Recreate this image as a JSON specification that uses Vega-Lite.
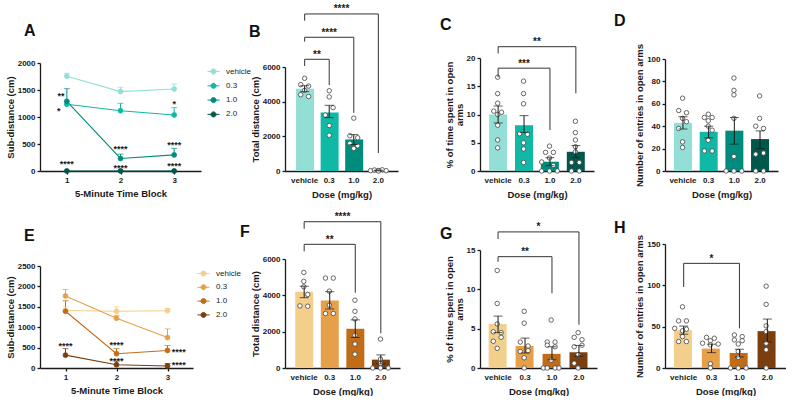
{
  "$schema": "https://vega.github.io/schema/vega-lite/v6.json",
  "padding": {"left": 5, "top": 4, "right": 0, "bottom": 0},
  "config": {
    "font": "Liberation Sans",
    "view": {"stroke": null},
    "axis": {"grid": false, "labelOverlap": false, "labelBound": false, "domainColor": "#1a1a1a", "tickColor": "#1a1a1a", "labelColor": "#1a1a1a", "titleColor": "#1a1a1a", "labelFont": "Liberation Sans", "titleFont": "Liberation Sans", "labelFontSize": 8, "labelFontWeight": "bold", "titleFontSize": 9.5, "titleFontWeight": "bold", "domainWidth": 1.3, "tickWidth": 1.3, "tickSize": 3, "labelPadding": 2},
    "axisY": {"titlePadding": 2, "format": "d"},
    "legend": {"labelFont": "Liberation Sans"},
    "title": {"font": "Liberation Sans", "fontSize": 16, "fontWeight": "bold", "color": "#111111", "anchor": "start", "frame": "group"}
  },
  "datasets": {
    "lineA": [
      {"dose": "vehicle", "block": 1, "mean": 1755, "hi": 1810},
      {"dose": "vehicle", "block": 2, "mean": 1470, "hi": 1550},
      {"dose": "vehicle", "block": 3, "mean": 1518, "hi": 1610},
      {"dose": "0.3", "block": 1, "mean": 1235, "hi": 1290},
      {"dose": "0.3", "block": 2, "mean": 1117, "hi": 1253},
      {"dose": "0.3", "block": 3, "mean": 1037, "hi": 1173},
      {"dose": "1.0", "block": 1, "mean": 1290, "hi": 1524},
      {"dose": "1.0", "block": 2, "mean": 232, "hi": 312},
      {"dose": "1.0", "block": 3, "mean": 298, "hi": 420},
      {"dose": "2.0", "block": 1, "mean": 0, "hi": 8},
      {"dose": "2.0", "block": 2, "mean": 0, "hi": 8},
      {"dose": "2.0", "block": 3, "mean": 0, "hi": 8}
    ],
    "starsA": [
      {"block": 0.89, "val": 1426, "label": "**"},
      {"block": 0.85, "val": 1148, "label": "*"},
      {"block": 1, "val": 167, "label": "****"},
      {"block": 2, "val": 444, "label": "****"},
      {"block": 2, "val": 93, "label": "****"},
      {"block": 3, "val": 1278, "label": "*"},
      {"block": 3, "val": 519, "label": "****"},
      {"block": 3, "val": 130, "label": "****"}
    ],
    "lineE": [
      {"dose": "vehicle", "block": 1, "mean": 1410, "hi": 1500},
      {"dose": "vehicle", "block": 2, "mean": 1390, "hi": 1500},
      {"dose": "vehicle", "block": 3, "mean": 1405, "hi": 1460},
      {"dose": "0.3", "block": 1, "mean": 1765, "hi": 1925},
      {"dose": "0.3", "block": 2, "mean": 1218, "hi": 1290},
      {"dose": "0.3", "block": 3, "mean": 745, "hi": 960},
      {"dose": "1.0", "block": 1, "mean": 1390, "hi": 1650},
      {"dose": "1.0", "block": 2, "mean": 350, "hi": 475},
      {"dose": "1.0", "block": 3, "mean": 430, "hi": 550},
      {"dose": "2.0", "block": 1, "mean": 315, "hi": 475},
      {"dose": "2.0", "block": 2, "mean": 80, "hi": 170},
      {"dose": "2.0", "block": 3, "mean": 50, "hi": 110}
    ],
    "starsE": [
      {"block": 1, "val": 588, "label": "****"},
      {"block": 2, "val": 605, "label": "****"},
      {"block": 2, "val": 213, "label": "****"},
      {"block": 3.22, "val": 449, "label": "****"},
      {"block": 3.22, "val": 114, "label": "****"}
    ],
    "barB": [
      {"dose": "vehicle", "mean": 4750, "lo": 4580, "hi": 4920},
      {"dose": "0.3", "mean": 3380, "lo": 3080, "hi": 3790},
      {"dose": "1.0", "mean": 1820, "lo": 1530, "hi": 2100},
      {"dose": "2.0", "mean": 30, "lo": 10, "hi": 50}
    ],
    "ptsB": [
      {"dose": "vehicle", "val": 5350, "slot": 3}, {"dose": "vehicle", "val": 4980, "slot": 2}, {"dose": "vehicle", "val": 4900, "slot": 4},
      {"dose": "vehicle", "val": 4650, "slot": 3}, {"dose": "vehicle", "val": 4400, "slot": 2}, {"dose": "vehicle", "val": 4300, "slot": 4},
      {"dose": "0.3", "val": 4630, "slot": 3}, {"dose": "0.3", "val": 4275, "slot": 3}, {"dose": "0.3", "val": 3656, "slot": 4},
      {"dose": "0.3", "val": 3225, "slot": 2}, {"dose": "0.3", "val": 2625, "slot": 3}, {"dose": "0.3", "val": 2063, "slot": 3},
      {"dose": "1.0", "val": 3050, "slot": 3}, {"dose": "1.0", "val": 2030, "slot": 2}, {"dose": "1.0", "val": 1920, "slot": 4},
      {"dose": "1.0", "val": 1600, "slot": 2}, {"dose": "1.0", "val": 1450, "slot": 4}, {"dose": "1.0", "val": 1300, "slot": 3},
      {"dose": "2.0", "val": 20, "slot": 1}, {"dose": "2.0", "val": 60, "slot": 2}, {"dose": "2.0", "val": 30, "slot": 3},
      {"dose": "2.0", "val": 70, "slot": 4}, {"dose": "2.0", "val": 20, "slot": 5}, {"dose": "2.0", "val": 0, "slot": 3}
    ],
    "brkB": [
      {"from": 0, "to": 1, "mid": 0.5, "top": 6445, "lb": 6060, "rb": 4960, "label": "**"},
      {"from": 0, "to": 2, "mid": 1, "top": 7715, "lb": 7460, "rb": 3350, "label": "****"},
      {"from": 0, "to": 3, "mid": 1.5, "top": 9060, "lb": 8670, "rb": 1040, "label": "****"}
    ],
    "barC": [
      {"dose": "vehicle", "mean": 10.0, "lo": 8.5, "hi": 11.5},
      {"dose": "0.3", "mean": 8.1, "lo": 6.8, "hi": 9.8},
      {"dose": "1.0", "mean": 1.65, "lo": 0.95, "hi": 2.35},
      {"dose": "2.0", "mean": 3.4, "lo": 2.4, "hi": 4.5}
    ],
    "ptsC": [
      {"dose": "vehicle", "val": 16.6, "slot": 3}, {"dose": "vehicle", "val": 13.7, "slot": 3}, {"dose": "vehicle", "val": 12.0, "slot": 3},
      {"dose": "vehicle", "val": 10.6, "slot": 2}, {"dose": "vehicle", "val": 10.4, "slot": 4}, {"dose": "vehicle", "val": 10.0, "slot": 3},
      {"dose": "vehicle", "val": 8.1, "slot": 3}, {"dose": "vehicle", "val": 5.5, "slot": 3}, {"dose": "vehicle", "val": 4.1, "slot": 3},
      {"dose": "0.3", "val": 15.9, "slot": 3}, {"dose": "0.3", "val": 13.7, "slot": 3}, {"dose": "0.3", "val": 11.9, "slot": 3},
      {"dose": "0.3", "val": 6.6, "slot": 2}, {"dose": "0.3", "val": 6.5, "slot": 4}, {"dose": "0.3", "val": 5.0, "slot": 3},
      {"dose": "0.3", "val": 3.9, "slot": 3}, {"dose": "0.3", "val": 1.5, "slot": 3},
      {"dose": "1.0", "val": 4.4, "slot": 3}, {"dose": "1.0", "val": 3.3, "slot": 2}, {"dose": "1.0", "val": 3.3, "slot": 4},
      {"dose": "1.0", "val": 2.3, "slot": 3}, {"dose": "1.0", "val": 1.6, "slot": 1}, {"dose": "1.0", "val": 1.0, "slot": 4},
      {"dose": "1.0", "val": 0, "slot": 1}, {"dose": "1.0", "val": 0, "slot": 3}, {"dose": "1.0", "val": 0, "slot": 5},
      {"dose": "2.0", "val": 8.8, "slot": 3}, {"dose": "2.0", "val": 6.8, "slot": 3}, {"dose": "2.0", "val": 5.5, "slot": 3},
      {"dose": "2.0", "val": 4.3, "slot": 3}, {"dose": "2.0", "val": 3.4, "slot": 3}, {"dose": "2.0", "val": 1.5, "slot": 2},
      {"dose": "2.0", "val": 1.5, "slot": 4}, {"dose": "2.0", "val": 0, "slot": 2}, {"dose": "2.0", "val": 0, "slot": 4}
    ],
    "brkC": [
      {"from": 0, "to": 2, "mid": 1, "top": 18.2, "lb": 16.6, "rb": 7.25, "label": "***"},
      {"from": 0, "to": 3, "mid": 1.5, "top": 22.0, "lb": 20.8, "rb": 13.75, "label": "**"}
    ],
    "barD": [
      {"dose": "vehicle", "mean": 43, "lo": 37.6, "hi": 48.4},
      {"dose": "0.3", "mean": 35, "lo": 29.6, "hi": 40},
      {"dose": "1.0", "mean": 36, "lo": 24, "hi": 47.8},
      {"dose": "2.0", "mean": 28.5, "lo": 20, "hi": 35.8}
    ],
    "ptsD": [
      {"dose": "vehicle", "val": 65, "slot": 3}, {"dose": "vehicle", "val": 54, "slot": 2}, {"dose": "vehicle", "val": 52, "slot": 4},
      {"dose": "vehicle", "val": 47, "slot": 3}, {"dose": "vehicle", "val": 44, "slot": 4}, {"dose": "vehicle", "val": 38, "slot": 2},
      {"dose": "vehicle", "val": 26, "slot": 3}, {"dose": "vehicle", "val": 21, "slot": 3},
      {"dose": "0.3", "val": 50.7, "slot": 3}, {"dose": "0.3", "val": 47.8, "slot": 2}, {"dose": "0.3", "val": 47.8, "slot": 4},
      {"dose": "0.3", "val": 44.8, "slot": 3}, {"dose": "0.3", "val": 40, "slot": 3}, {"dose": "0.3", "val": 36.4, "slot": 4},
      {"dose": "0.3", "val": 27.5, "slot": 3}, {"dose": "0.3", "val": 17.9, "slot": 2}, {"dose": "0.3", "val": 17.9, "slot": 4},
      {"dose": "1.0", "val": 83, "slot": 3}, {"dose": "1.0", "val": 72, "slot": 3}, {"dose": "1.0", "val": 68, "slot": 3},
      {"dose": "1.0", "val": 47, "slot": 3}, {"dose": "1.0", "val": 13, "slot": 3}, {"dose": "1.0", "val": 0, "slot": 1},
      {"dose": "1.0", "val": 0, "slot": 3}, {"dose": "1.0", "val": 0, "slot": 5},
      {"dose": "2.0", "val": 67, "slot": 3}, {"dose": "2.0", "val": 47, "slot": 3}, {"dose": "2.0", "val": 40, "slot": 2},
      {"dose": "2.0", "val": 38, "slot": 4}, {"dose": "2.0", "val": 15, "slot": 2}, {"dose": "2.0", "val": 16, "slot": 4},
      {"dose": "2.0", "val": 0, "slot": 2}, {"dose": "2.0", "val": 0, "slot": 4}
    ],
    "barF": [
      {"dose": "vehicle", "mean": 4200, "lo": 3870, "hi": 4500},
      {"dose": "0.3", "mean": 3720, "lo": 3250, "hi": 4200},
      {"dose": "1.0", "mean": 2160, "lo": 1680, "hi": 2650},
      {"dose": "2.0", "mean": 460, "lo": 230, "hi": 720}
    ],
    "ptsF": [
      {"dose": "vehicle", "val": 5260, "slot": 3}, {"dose": "vehicle", "val": 4770, "slot": 3}, {"dose": "vehicle", "val": 4470, "slot": 3},
      {"dose": "vehicle", "val": 4050, "slot": 4}, {"dose": "vehicle", "val": 3420, "slot": 2}, {"dose": "vehicle", "val": 3400, "slot": 4},
      {"dose": "0.3", "val": 4950, "slot": 2}, {"dose": "0.3", "val": 4950, "slot": 4}, {"dose": "0.3", "val": 4230, "slot": 3},
      {"dose": "0.3", "val": 3460, "slot": 3}, {"dose": "0.3", "val": 3000, "slot": 2}, {"dose": "0.3", "val": 3000, "slot": 4},
      {"dose": "1.0", "val": 3730, "slot": 3}, {"dose": "1.0", "val": 3120, "slot": 3}, {"dose": "1.0", "val": 2700, "slot": 3},
      {"dose": "1.0", "val": 1800, "slot": 3}, {"dose": "1.0", "val": 1320, "slot": 3}, {"dose": "1.0", "val": 760, "slot": 3},
      {"dose": "2.0", "val": 1590, "slot": 3}, {"dose": "2.0", "val": 490, "slot": 3}, {"dose": "2.0", "val": 250, "slot": 3},
      {"dose": "2.0", "val": 0, "slot": 1}, {"dose": "2.0", "val": 0, "slot": 3}, {"dose": "2.0", "val": 0, "slot": 5}
    ],
    "brkF": [
      {"from": 0, "to": 2, "mid": 1, "top": 6808, "lb": 6420, "rb": 4144, "label": "**"},
      {"from": 0, "to": 3, "mid": 1.5, "top": 8052, "lb": 7667, "rb": 1910, "label": "****"}
    ],
    "barG": [
      {"dose": "vehicle", "mean": 5.6, "lo": 4.5, "hi": 6.6},
      {"dose": "0.3", "mean": 2.8, "lo": 1.9, "hi": 3.8},
      {"dose": "1.0", "mean": 1.8, "lo": 1.05, "hi": 2.7},
      {"dose": "2.0", "mean": 2.0, "lo": 1.5, "hi": 2.87}
    ],
    "ptsG": [
      {"dose": "vehicle", "val": 12.4, "slot": 3}, {"dose": "vehicle", "val": 8.2, "slot": 3}, {"dose": "vehicle", "val": 5.6, "slot": 3},
      {"dose": "vehicle", "val": 4.6, "slot": 2}, {"dose": "vehicle", "val": 4.5, "slot": 4}, {"dose": "vehicle", "val": 3.9, "slot": 4},
      {"dose": "vehicle", "val": 3.4, "slot": 2}, {"dose": "vehicle", "val": 2.5, "slot": 3},
      {"dose": "0.3", "val": 7.2, "slot": 3}, {"dose": "0.3", "val": 5.7, "slot": 3}, {"dose": "0.3", "val": 3.3, "slot": 2},
      {"dose": "0.3", "val": 2.8, "slot": 4}, {"dose": "0.3", "val": 2.2, "slot": 4}, {"dose": "0.3", "val": 2.1, "slot": 2},
      {"dose": "0.3", "val": 1.3, "slot": 3}, {"dose": "0.3", "val": 0, "slot": 3},
      {"dose": "1.0", "val": 6.1, "slot": 3}, {"dose": "1.0", "val": 3.3, "slot": 2}, {"dose": "1.0", "val": 3.3, "slot": 4},
      {"dose": "1.0", "val": 2.9, "slot": 2}, {"dose": "1.0", "val": 2.7, "slot": 4}, {"dose": "1.0", "val": 1.0, "slot": 3},
      {"dose": "1.0", "val": 0, "slot": 1}, {"dose": "1.0", "val": 0, "slot": 2}, {"dose": "1.0", "val": 0, "slot": 4}, {"dose": "1.0", "val": 0, "slot": 5},
      {"dose": "2.0", "val": 4.5, "slot": 3}, {"dose": "2.0", "val": 3.9, "slot": 2}, {"dose": "2.0", "val": 3.6, "slot": 4},
      {"dose": "2.0", "val": 2.9, "slot": 4}, {"dose": "2.0", "val": 2.7, "slot": 2}, {"dose": "2.0", "val": 1.7, "slot": 3},
      {"dose": "2.0", "val": 0.6, "slot": 2}, {"dose": "2.0", "val": 0, "slot": 3}
    ],
    "brkG": [
      {"from": 0, "to": 2, "mid": 1, "top": 14.15, "lb": 13.5, "rb": 9.5, "label": "**"},
      {"from": 0, "to": 3, "mid": 1.5, "top": 17.3, "lb": 16.4, "rb": 5.5, "label": "*"}
    ],
    "barH": [
      {"dose": "vehicle", "mean": 45.8, "lo": 40.9, "hi": 50.7},
      {"dose": "0.3", "mean": 23.5, "lo": 18.6, "hi": 28.8},
      {"dose": "1.0", "mean": 18.2, "lo": 13.4, "hi": 22.7},
      {"dose": "2.0", "mean": 44.6, "lo": 31.6, "hi": 59.2}
    ],
    "ptsH": [
      {"dose": "vehicle", "val": 74, "slot": 3}, {"dose": "vehicle", "val": 57, "slot": 2}, {"dose": "vehicle", "val": 57, "slot": 4},
      {"dose": "vehicle", "val": 48, "slot": 1}, {"dose": "vehicle", "val": 47, "slot": 4}, {"dose": "vehicle", "val": 45, "slot": 3},
      {"dose": "vehicle", "val": 38, "slot": 3}, {"dose": "vehicle", "val": 32, "slot": 2}, {"dose": "vehicle", "val": 32, "slot": 4},
      {"dose": "0.3", "val": 37, "slot": 2}, {"dose": "0.3", "val": 36, "slot": 4}, {"dose": "0.3", "val": 33, "slot": 3},
      {"dose": "0.3", "val": 30, "slot": 1}, {"dose": "0.3", "val": 29, "slot": 5}, {"dose": "0.3", "val": 28, "slot": 3},
      {"dose": "0.3", "val": 5, "slot": 3}, {"dose": "0.3", "val": 0, "slot": 3},
      {"dose": "1.0", "val": 40, "slot": 2}, {"dose": "1.0", "val": 38, "slot": 4}, {"dose": "1.0", "val": 34, "slot": 2},
      {"dose": "1.0", "val": 33, "slot": 4}, {"dose": "1.0", "val": 29, "slot": 3}, {"dose": "1.0", "val": 20, "slot": 3},
      {"dose": "1.0", "val": 13, "slot": 3}, {"dose": "1.0", "val": 0, "slot": 1}, {"dose": "1.0", "val": 0, "slot": 3}, {"dose": "1.0", "val": 0, "slot": 5},
      {"dose": "2.0", "val": 99, "slot": 3}, {"dose": "2.0", "val": 77, "slot": 3}, {"dose": "2.0", "val": 51, "slot": 3},
      {"dose": "2.0", "val": 44, "slot": 3}, {"dose": "2.0", "val": 30, "slot": 3}, {"dose": "2.0", "val": 22, "slot": 3},
      {"dose": "2.0", "val": 0, "slot": 3}
    ],
    "brkH": [
      {"from": 0, "to": 2, "mid": 1, "top": 126.6, "lb": 98, "rb": 48, "label": "*"}
    ]
  },
  "resolve": {"scale": {"color": "independent", "fill": "independent", "stroke": "independent"}, "legend": {"color": "independent", "fill": "independent", "stroke": "independent"}},
  "columns": 4,
  "spacing": {"row": 73, "column": 80},
  "bounds": "flush",
  "concat": [
    {
      "width": 165, "height": 113,
      "title": {"text": "A", "dx": -16, "offset": 19},
      "layer": [
        {"data": {"name": "lineA"}, "mark": {"type": "line", "strokeWidth": 1.1},
         "encoding": {
           "x": {"field": "block", "type": "quantitative", "scale": {"domain": [0.5, 3.5], "range": [0, 161], "nice": false, "zero": false}, "axis": {"values": [1, 2, 3], "tickCount": 20, "format": "d", "title": "5-Minute Time Block", "titlePadding": 4}},
           "y": {"field": "mean", "type": "quantitative", "scale": {"domain": [0, 2000], "range": [113, 5], "nice": false}, "axis": {"values": [0, 500, 1000, 1500, 2000], "tickCount": 20, "title": "Sub-distance (cm)"}},
           "stroke": {"field": "dose", "type": "nominal", "scale": {"domain": ["vehicle", "0.3", "1.0", "2.0"], "range": ["#93DFD5", "#10B8A6", "#008C7C", "#00584C"]},
             "legend": {"title": null, "orient": "none", "legendX": 167, "legendY": 7, "symbolType": "M-1,0L1,0M-0.42,0A0.42,0.42,0,1,1,0.42,0A0.42,0.42,0,1,1,-0.42,0Z", "symbolSize": 144, "symbolStrokeWidth": 1, "labelFontSize": 8, "labelFontWeight": "normal", "labelColor": "#222222", "rowPadding": 2.3, "labelOffset": 6}}
         }},
        {"data": {"name": "lineA"}, "mark": {"type": "rule", "strokeWidth": 1},
         "encoding": {"x": {"field": "block", "type": "quantitative"}, "y": {"field": "mean", "type": "quantitative"}, "y2": {"field": "hi"}, "stroke": {"field": "dose", "type": "nominal"}}},
        {"data": {"name": "lineA"}, "mark": {"type": "tick", "orient": "horizontal", "size": 6, "thickness": 1},
         "encoding": {"x": {"field": "block", "type": "quantitative"}, "y": {"field": "hi", "type": "quantitative"}, "fill": {"field": "dose", "type": "nominal"}}},
        {"data": {"name": "lineA"}, "mark": {"type": "point", "shape": "circle", "filled": true, "size": 24, "strokeWidth": 0.8, "opacity": 1},
         "encoding": {
           "x": {"field": "block", "type": "quantitative"}, "y": {"field": "mean", "type": "quantitative"},
           "fill": {"field": "dose", "type": "nominal", "scale": {"domain": ["vehicle", "0.3", "1.0", "2.0"], "range": ["#93DFD5", "#10B8A6", "#008C7C", "#00584C"]},
             "legend": {"title": null, "orient": "none", "legendX": 167, "legendY": 7, "symbolType": "M-1,0L1,0M-0.42,0A0.42,0.42,0,1,1,0.42,0A0.42,0.42,0,1,1,-0.42,0Z", "symbolSize": 144, "symbolStrokeWidth": 1, "labelFontSize": 8, "labelFontWeight": "normal", "labelColor": "#222222", "rowPadding": 2.3, "labelOffset": 6}},
           "stroke": {"field": "dose", "type": "nominal"}
         }},
        {"data": {"name": "starsA"}, "mark": {"type": "text", "fontSize": 9, "fontWeight": "bold", "letterSpacing": 1, "baseline": "middle", "dy": 2, "color": "#1a1a1a"},
         "encoding": {"x": {"field": "block", "type": "quantitative"}, "y": {"field": "val", "type": "quantitative"}, "text": {"field": "label"}}}
      ]
    },
    {
      "width": 115, "height": 113,
      "title": {"text": "B", "dx": -36, "offset": -36},
      "resolve": {"scale": {"x": "independent"}},
      "layer": [
        {"layer": [
          {"data": {"name": "barB"}, "mark": {"type": "bar"},
           "encoding": {
             "x": {"field": "dose", "type": "nominal", "sort": ["vehicle", "0.3", "1.0", "2.0"], "scale": {"domain": ["vehicle", "0.3", "1.0", "2.0"], "range": [0, 113], "paddingInner": 0.3, "paddingOuter": 0.45}, "axis": {"title": "Dose (mg/kg)", "labelAngle": 0, "ticks": false, "labelPadding": 5, "titlePadding": 5}},
             "y": {"field": "mean", "type": "quantitative", "scale": {"domain": [0, 6000], "range": [113, 9], "nice": false}, "axis": {"values": [0, 2000, 4000, 6000], "tickCount": 20, "title": "Total distance (cm)"}},
             "color": {"field": "dose", "type": "nominal", "scale": {"domain": ["vehicle", "0.3", "1.0", "2.0"], "range": ["#93DFD5", "#10B8A6", "#008C7C", "#00584C"]}, "legend": null}
           }},
          {"data": {"name": "ptsB"}, "mark": {"type": "point", "shape": "circle", "filled": true, "fill": "white", "stroke": "#444444", "strokeWidth": 0.8, "size": 20, "opacity": 1},
           "encoding": {"x": {"field": "dose", "type": "nominal"}, "xOffset": {"field": "slot", "type": "ordinal", "scale": {"domain": [1, 2, 3, 4, 5], "paddingOuter": 0.2}}, "y": {"field": "val", "type": "quantitative"}}},
          {"data": {"name": "barB"}, "mark": {"type": "rule", "color": "#1a1a1a", "strokeWidth": 1},
           "encoding": {"x": {"field": "dose", "type": "nominal"}, "y": {"field": "lo", "type": "quantitative"}, "y2": {"field": "hi"}}},
          {"data": {"name": "barB"}, "mark": {"type": "tick", "orient": "horizontal", "color": "#1a1a1a", "size": 9, "thickness": 1},
           "encoding": {"x": {"field": "dose", "type": "nominal"}, "y": {"field": "hi", "type": "quantitative"}}},
          {"data": {"name": "barB"}, "mark": {"type": "tick", "orient": "horizontal", "color": "#1a1a1a", "size": 9, "thickness": 1},
           "encoding": {"x": {"field": "dose", "type": "nominal"}, "y": {"field": "lo", "type": "quantitative"}}}
        ]},
        {"data": {"name": "brkB"}, "layer": [
          {"mark": {"type": "rule", "color": "#333333", "strokeWidth": 1},
           "encoding": {"x": {"field": "from", "type": "quantitative", "scale": {"domain": [-0.8, 3.8], "range": [0, 113], "nice": false, "zero": false}, "axis": null}, "x2": {"field": "to"}, "y": {"field": "top", "type": "quantitative"}}},
          {"mark": {"type": "rule", "color": "#333333", "strokeWidth": 1},
           "encoding": {"x": {"field": "from", "type": "quantitative"}, "y": {"field": "lb", "type": "quantitative"}, "y2": {"field": "top"}}},
          {"mark": {"type": "rule", "color": "#333333", "strokeWidth": 1},
           "encoding": {"x": {"field": "to", "type": "quantitative"}, "y": {"field": "rb", "type": "quantitative"}, "y2": {"field": "top"}}},
          {"mark": {"type": "text", "fontSize": 10, "fontWeight": "bold", "letterSpacing": 2, "baseline": "alphabetic", "dy": -1.5, "color": "#1a1a1a"},
           "encoding": {"x": {"field": "mid", "type": "quantitative"}, "y": {"field": "top", "type": "quantitative"}, "text": {"field": "label"}}}
        ]}
      ]
    },
    {
      "width": 105, "height": 113,
      "title": {"text": "C", "dx": -40, "offset": 4},
      "resolve": {"scale": {"x": "independent"}},
      "layer": [
        {"layer": [
          {"data": {"name": "barC"}, "mark": {"type": "bar"},
           "encoding": {
             "x": {"field": "dose", "type": "nominal", "sort": ["vehicle", "0.3", "1.0", "2.0"], "scale": {"domain": ["vehicle", "0.3", "1.0", "2.0"], "range": [0, 114], "paddingInner": 0.3, "paddingOuter": 0.35}, "axis": {"title": "Dose (mg/kg)", "labelAngle": 0, "ticks": false, "labelPadding": 5, "titlePadding": 5}},
             "y": {"field": "mean", "type": "quantitative", "scale": {"domain": [0, 20], "range": [113, 0], "nice": false}, "axis": {"values": [0, 5, 10, 15, 20], "tickCount": 20, "title": ["% of time spent in open", "arms"], "titleLineHeight": 10}},
             "color": {"field": "dose", "type": "nominal", "scale": {"domain": ["vehicle", "0.3", "1.0", "2.0"], "range": ["#93DFD5", "#10B8A6", "#008C7C", "#00584C"]}, "legend": null}
           }},
          {"data": {"name": "ptsC"}, "mark": {"type": "point", "shape": "circle", "filled": true, "fill": "white", "stroke": "#444444", "strokeWidth": 0.8, "size": 20, "opacity": 1},
           "encoding": {"x": {"field": "dose", "type": "nominal"}, "xOffset": {"field": "slot", "type": "ordinal", "scale": {"domain": [1, 2, 3, 4, 5], "paddingOuter": 0.2}}, "y": {"field": "val", "type": "quantitative"}}},
          {"data": {"name": "barC"}, "mark": {"type": "rule", "color": "#1a1a1a", "strokeWidth": 1},
           "encoding": {"x": {"field": "dose", "type": "nominal"}, "y": {"field": "lo", "type": "quantitative"}, "y2": {"field": "hi"}}},
          {"data": {"name": "barC"}, "mark": {"type": "tick", "orient": "horizontal", "color": "#1a1a1a", "size": 9, "thickness": 1},
           "encoding": {"x": {"field": "dose", "type": "nominal"}, "y": {"field": "hi", "type": "quantitative"}}},
          {"data": {"name": "barC"}, "mark": {"type": "tick", "orient": "horizontal", "color": "#1a1a1a", "size": 9, "thickness": 1},
           "encoding": {"x": {"field": "dose", "type": "nominal"}, "y": {"field": "lo", "type": "quantitative"}}}
        ]},
        {"data": {"name": "brkC"}, "layer": [
          {"mark": {"type": "rule", "color": "#333333", "strokeWidth": 1},
           "encoding": {"x": {"field": "from", "type": "quantitative", "scale": {"domain": [-0.7, 3.7], "range": [0, 114], "nice": false, "zero": false}, "axis": null}, "x2": {"field": "to"}, "y": {"field": "top", "type": "quantitative"}}},
          {"mark": {"type": "rule", "color": "#333333", "strokeWidth": 1},
           "encoding": {"x": {"field": "from", "type": "quantitative"}, "y": {"field": "lb", "type": "quantitative"}, "y2": {"field": "top"}}},
          {"mark": {"type": "rule", "color": "#333333", "strokeWidth": 1},
           "encoding": {"x": {"field": "to", "type": "quantitative"}, "y": {"field": "rb", "type": "quantitative"}, "y2": {"field": "top"}}},
          {"mark": {"type": "text", "fontSize": 10, "fontWeight": "bold", "letterSpacing": 2, "baseline": "alphabetic", "dy": -1.5, "color": "#1a1a1a"},
           "encoding": {"x": {"field": "mid", "type": "quantitative"}, "y": {"field": "top", "type": "quantitative"}, "text": {"field": "label"}}}
        ]}
      ]
    },
    {
      "width": 115, "height": 113,
      "title": {"text": "D", "dx": -51, "offset": 14},
      "layer": [
        {"data": {"name": "barD"}, "mark": {"type": "bar"},
         "encoding": {
           "x": {"field": "dose", "type": "nominal", "sort": ["vehicle", "0.3", "1.0", "2.0"], "scale": {"domain": ["vehicle", "0.3", "1.0", "2.0"], "range": [0, 113], "paddingInner": 0.3, "paddingOuter": 0.35}, "axis": {"title": "Dose (mg/kg)", "labelAngle": 0, "ticks": false, "labelPadding": 5, "titlePadding": 5}},
           "y": {"field": "mean", "type": "quantitative", "scale": {"domain": [0, 100], "range": [113, 1], "nice": false}, "axis": {"values": [0, 20, 40, 60, 80, 100], "tickCount": 20, "title": "Number of entries in open arms"}},
           "color": {"field": "dose", "type": "nominal", "scale": {"domain": ["vehicle", "0.3", "1.0", "2.0"], "range": ["#93DFD5", "#10B8A6", "#008C7C", "#00584C"]}, "legend": null}
         }},
        {"data": {"name": "ptsD"}, "mark": {"type": "point", "shape": "circle", "filled": true, "fill": "white", "stroke": "#444444", "strokeWidth": 0.8, "size": 20, "opacity": 1},
         "encoding": {"x": {"field": "dose", "type": "nominal"}, "xOffset": {"field": "slot", "type": "ordinal", "scale": {"domain": [1, 2, 3, 4, 5], "paddingOuter": 0.2}}, "y": {"field": "val", "type": "quantitative"}}},
        {"data": {"name": "barD"}, "mark": {"type": "rule", "color": "#1a1a1a", "strokeWidth": 1},
         "encoding": {"x": {"field": "dose", "type": "nominal"}, "y": {"field": "lo", "type": "quantitative"}, "y2": {"field": "hi"}}},
        {"data": {"name": "barD"}, "mark": {"type": "tick", "orient": "horizontal", "color": "#1a1a1a", "size": 9, "thickness": 1},
         "encoding": {"x": {"field": "dose", "type": "nominal"}, "y": {"field": "hi", "type": "quantitative"}}},
        {"data": {"name": "barD"}, "mark": {"type": "tick", "orient": "horizontal", "color": "#1a1a1a", "size": 9, "thickness": 1},
         "encoding": {"x": {"field": "dose", "type": "nominal"}, "y": {"field": "lo", "type": "quantitative"}}}
      ]
    },
    {
      "width": 165, "height": 124,
      "title": {"text": "E", "dx": -16, "offset": 0},
      "layer": [
        {"data": {"name": "lineE"}, "mark": {"type": "line", "strokeWidth": 1.1},
         "encoding": {
           "x": {"field": "block", "type": "quantitative", "scale": {"domain": [0.5, 3.5], "range": [0, 153], "nice": false, "zero": false}, "axis": {"values": [1, 2, 3], "tickCount": 20, "format": "d", "title": "5-Minute Time Block", "titlePadding": 4}},
           "y": {"field": "mean", "type": "quantitative", "scale": {"domain": [0, 2500], "range": [124, 22], "nice": false}, "axis": {"values": [0, 500, 1000, 1500, 2000, 2500], "tickCount": 20, "title": "Sub-distance (cm)"}},
           "stroke": {"field": "dose", "type": "nominal", "scale": {"domain": ["vehicle", "0.3", "1.0", "2.0"], "range": ["#F3CF8C", "#E6A04A", "#C26C18", "#7A3E0F"]},
             "legend": {"title": null, "orient": "none", "legendX": 157, "legendY": 23, "symbolType": "M-1,0L1,0M-0.42,0A0.42,0.42,0,1,1,0.42,0A0.42,0.42,0,1,1,-0.42,0Z", "symbolSize": 144, "symbolStrokeWidth": 1, "labelFontSize": 8, "labelFontWeight": "normal", "labelColor": "#222222", "rowPadding": 1.8, "labelOffset": 6}}
         }},
        {"data": {"name": "lineE"}, "mark": {"type": "rule", "strokeWidth": 1},
         "encoding": {"x": {"field": "block", "type": "quantitative"}, "y": {"field": "mean", "type": "quantitative"}, "y2": {"field": "hi"}, "stroke": {"field": "dose", "type": "nominal"}}},
        {"data": {"name": "lineE"}, "mark": {"type": "tick", "orient": "horizontal", "size": 6, "thickness": 1},
         "encoding": {"x": {"field": "block", "type": "quantitative"}, "y": {"field": "hi", "type": "quantitative"}, "fill": {"field": "dose", "type": "nominal"}}},
        {"data": {"name": "lineE"}, "mark": {"type": "point", "shape": "circle", "filled": true, "size": 24, "strokeWidth": 0.8, "opacity": 1},
         "encoding": {
           "x": {"field": "block", "type": "quantitative"}, "y": {"field": "mean", "type": "quantitative"},
           "fill": {"field": "dose", "type": "nominal", "scale": {"domain": ["vehicle", "0.3", "1.0", "2.0"], "range": ["#F3CF8C", "#E6A04A", "#C26C18", "#7A3E0F"]},
             "legend": {"title": null, "orient": "none", "legendX": 157, "legendY": 23, "symbolType": "M-1,0L1,0M-0.42,0A0.42,0.42,0,1,1,0.42,0A0.42,0.42,0,1,1,-0.42,0Z", "symbolSize": 144, "symbolStrokeWidth": 1, "labelFontSize": 8, "labelFontWeight": "normal", "labelColor": "#222222", "rowPadding": 1.8, "labelOffset": 6}},
           "stroke": {"field": "dose", "type": "nominal"}
         }},
        {"data": {"name": "starsE"}, "mark": {"type": "text", "fontSize": 9, "fontWeight": "bold", "letterSpacing": 0.5, "baseline": "middle", "dy": 2, "color": "#1a1a1a"},
         "encoding": {"x": {"field": "block", "type": "quantitative"}, "y": {"field": "val", "type": "quantitative"}, "text": {"field": "label"}}}
      ]
    },
    {
      "width": 115, "height": 124,
      "title": {"text": "F", "dx": -45, "offset": -28},
      "resolve": {"scale": {"x": "independent"}},
      "layer": [
        {"layer": [
          {"data": {"name": "barF"}, "mark": {"type": "bar"},
           "encoding": {
             "x": {"field": "dose", "type": "nominal", "sort": ["vehicle", "0.3", "1.0", "2.0"], "scale": {"domain": ["vehicle", "0.3", "1.0", "2.0"], "range": [0, 115], "paddingInner": 0.3, "paddingOuter": 0.4}, "axis": {"title": "Dose (mg/kg)", "labelAngle": 0, "ticks": false, "labelPadding": 5, "titlePadding": 5}},
             "y": {"field": "mean", "type": "quantitative", "scale": {"domain": [0, 6000], "range": [124, 15], "nice": false}, "axis": {"values": [0, 2000, 4000, 6000], "tickCount": 20, "title": "Total distance (cm)"}},
             "color": {"field": "dose", "type": "nominal", "scale": {"domain": ["vehicle", "0.3", "1.0", "2.0"], "range": ["#F3CF8C", "#E6A04A", "#C26C18", "#7A3E0F"]}, "legend": null}
           }},
          {"data": {"name": "ptsF"}, "mark": {"type": "point", "shape": "circle", "filled": true, "fill": "white", "stroke": "#444444", "strokeWidth": 0.8, "size": 20, "opacity": 1},
           "encoding": {"x": {"field": "dose", "type": "nominal"}, "xOffset": {"field": "slot", "type": "ordinal", "scale": {"domain": [1, 2, 3, 4, 5], "paddingOuter": 0.2}}, "y": {"field": "val", "type": "quantitative"}}},
          {"data": {"name": "barF"}, "mark": {"type": "rule", "color": "#1a1a1a", "strokeWidth": 1},
           "encoding": {"x": {"field": "dose", "type": "nominal"}, "y": {"field": "lo", "type": "quantitative"}, "y2": {"field": "hi"}}},
          {"data": {"name": "barF"}, "mark": {"type": "tick", "orient": "horizontal", "color": "#1a1a1a", "size": 9, "thickness": 1},
           "encoding": {"x": {"field": "dose", "type": "nominal"}, "y": {"field": "hi", "type": "quantitative"}}},
          {"data": {"name": "barF"}, "mark": {"type": "tick", "orient": "horizontal", "color": "#1a1a1a", "size": 9, "thickness": 1},
           "encoding": {"x": {"field": "dose", "type": "nominal"}, "y": {"field": "lo", "type": "quantitative"}}}
        ]},
        {"data": {"name": "brkF"}, "layer": [
          {"mark": {"type": "rule", "color": "#333333", "strokeWidth": 1},
           "encoding": {"x": {"field": "from", "type": "quantitative", "scale": {"domain": [-0.75, 3.75], "range": [0, 115], "nice": false, "zero": false}, "axis": null}, "x2": {"field": "to"}, "y": {"field": "top", "type": "quantitative"}}},
          {"mark": {"type": "rule", "color": "#333333", "strokeWidth": 1},
           "encoding": {"x": {"field": "from", "type": "quantitative"}, "y": {"field": "lb", "type": "quantitative"}, "y2": {"field": "top"}}},
          {"mark": {"type": "rule", "color": "#333333", "strokeWidth": 1},
           "encoding": {"x": {"field": "to", "type": "quantitative"}, "y": {"field": "rb", "type": "quantitative"}, "y2": {"field": "top"}}},
          {"mark": {"type": "text", "fontSize": 10, "fontWeight": "bold", "letterSpacing": 2, "baseline": "alphabetic", "dy": -1.5, "color": "#1a1a1a"},
           "encoding": {"x": {"field": "mid", "type": "quantitative"}, "y": {"field": "top", "type": "quantitative"}, "text": {"field": "label"}}}
        ]}
      ]
    },
    {
      "width": 105, "height": 124,
      "title": {"text": "G", "dx": -40, "offset": -20},
      "resolve": {"scale": {"x": "independent"}},
      "layer": [
        {"layer": [
          {"data": {"name": "barG"}, "mark": {"type": "bar"},
           "encoding": {
             "x": {"field": "dose", "type": "nominal", "sort": ["vehicle", "0.3", "1.0", "2.0"], "scale": {"domain": ["vehicle", "0.3", "1.0", "2.0"], "range": [0, 117], "paddingInner": 0.3, "paddingOuter": 0.32}, "axis": {"title": "Dose (mg/kg)", "labelAngle": 0, "ticks": false, "labelPadding": 5, "titlePadding": 5}},
             "y": {"field": "mean", "type": "quantitative", "scale": {"domain": [0, 15], "range": [124, 6], "nice": false}, "axis": {"values": [0, 5, 10, 15], "tickCount": 20, "title": ["% of time spent in open", "arms"], "titleLineHeight": 10}},
             "color": {"field": "dose", "type": "nominal", "scale": {"domain": ["vehicle", "0.3", "1.0", "2.0"], "range": ["#F3CF8C", "#E6A04A", "#C26C18", "#7A3E0F"]}, "legend": null}
           }},
          {"data": {"name": "ptsG"}, "mark": {"type": "point", "shape": "circle", "filled": true, "fill": "white", "stroke": "#444444", "strokeWidth": 0.8, "size": 20, "opacity": 1},
           "encoding": {"x": {"field": "dose", "type": "nominal"}, "xOffset": {"field": "slot", "type": "ordinal", "scale": {"domain": [1, 2, 3, 4, 5], "paddingOuter": 0.2}}, "y": {"field": "val", "type": "quantitative"}}},
          {"data": {"name": "barG"}, "mark": {"type": "rule", "color": "#1a1a1a", "strokeWidth": 1},
           "encoding": {"x": {"field": "dose", "type": "nominal"}, "y": {"field": "lo", "type": "quantitative"}, "y2": {"field": "hi"}}},
          {"data": {"name": "barG"}, "mark": {"type": "tick", "orient": "horizontal", "color": "#1a1a1a", "size": 9, "thickness": 1},
           "encoding": {"x": {"field": "dose", "type": "nominal"}, "y": {"field": "hi", "type": "quantitative"}}},
          {"data": {"name": "barG"}, "mark": {"type": "tick", "orient": "horizontal", "color": "#1a1a1a", "size": 9, "thickness": 1},
           "encoding": {"x": {"field": "dose", "type": "nominal"}, "y": {"field": "lo", "type": "quantitative"}}}
        ]},
        {"data": {"name": "brkG"}, "layer": [
          {"mark": {"type": "rule", "color": "#333333", "strokeWidth": 1},
           "encoding": {"x": {"field": "from", "type": "quantitative", "scale": {"domain": [-0.67, 3.67], "range": [0, 117], "nice": false, "zero": false}, "axis": null}, "x2": {"field": "to"}, "y": {"field": "top", "type": "quantitative"}}},
          {"mark": {"type": "rule", "color": "#333333", "strokeWidth": 1},
           "encoding": {"x": {"field": "from", "type": "quantitative"}, "y": {"field": "lb", "type": "quantitative"}, "y2": {"field": "top"}}},
          {"mark": {"type": "rule", "color": "#333333", "strokeWidth": 1},
           "encoding": {"x": {"field": "to", "type": "quantitative"}, "y": {"field": "rb", "type": "quantitative"}, "y2": {"field": "top"}}},
          {"mark": {"type": "text", "fontSize": 10, "fontWeight": "bold", "letterSpacing": 2, "baseline": "alphabetic", "dy": -1.5, "color": "#1a1a1a"},
           "encoding": {"x": {"field": "mid", "type": "quantitative"}, "y": {"field": "top", "type": "quantitative"}, "text": {"field": "label"}}}
        ]}
      ]
    },
    {
      "width": 115, "height": 124,
      "title": {"text": "H", "dx": -51, "offset": -2},
      "resolve": {"scale": {"x": "independent"}},
      "layer": [
        {"layer": [
          {"data": {"name": "barH"}, "mark": {"type": "bar"},
           "encoding": {
             "x": {"field": "dose", "type": "nominal", "sort": ["vehicle", "0.3", "1.0", "2.0"], "scale": {"domain": ["vehicle", "0.3", "1.0", "2.0"], "range": [0, 121], "paddingInner": 0.3, "paddingOuter": 0.32}, "axis": {"title": "Dose (mg/kg)", "labelAngle": 0, "ticks": false, "labelPadding": 5, "titlePadding": 5}},
             "y": {"field": "mean", "type": "quantitative", "scale": {"domain": [0, 150], "range": [124, 0], "nice": false}, "axis": {"values": [0, 50, 100, 150], "tickCount": 20, "title": "Number of entries in open arms"}},
             "color": {"field": "dose", "type": "nominal", "scale": {"domain": ["vehicle", "0.3", "1.0", "2.0"], "range": ["#F3CF8C", "#E6A04A", "#C26C18", "#7A3E0F"]}, "legend": null}
           }},
          {"data": {"name": "ptsH"}, "mark": {"type": "point", "shape": "circle", "filled": true, "fill": "white", "stroke": "#444444", "strokeWidth": 0.8, "size": 20, "opacity": 1},
           "encoding": {"x": {"field": "dose", "type": "nominal"}, "xOffset": {"field": "slot", "type": "ordinal", "scale": {"domain": [1, 2, 3, 4, 5], "paddingOuter": 0.2}}, "y": {"field": "val", "type": "quantitative"}}},
          {"data": {"name": "barH"}, "mark": {"type": "rule", "color": "#1a1a1a", "strokeWidth": 1},
           "encoding": {"x": {"field": "dose", "type": "nominal"}, "y": {"field": "lo", "type": "quantitative"}, "y2": {"field": "hi"}}},
          {"data": {"name": "barH"}, "mark": {"type": "tick", "orient": "horizontal", "color": "#1a1a1a", "size": 9, "thickness": 1},
           "encoding": {"x": {"field": "dose", "type": "nominal"}, "y": {"field": "hi", "type": "quantitative"}}},
          {"data": {"name": "barH"}, "mark": {"type": "tick", "orient": "horizontal", "color": "#1a1a1a", "size": 9, "thickness": 1},
           "encoding": {"x": {"field": "dose", "type": "nominal"}, "y": {"field": "lo", "type": "quantitative"}}}
        ]},
        {"data": {"name": "brkH"}, "layer": [
          {"mark": {"type": "rule", "color": "#333333", "strokeWidth": 1},
           "encoding": {"x": {"field": "from", "type": "quantitative", "scale": {"domain": [-0.67, 3.67], "range": [0, 121], "nice": false, "zero": false}, "axis": null}, "x2": {"field": "to"}, "y": {"field": "top", "type": "quantitative"}}},
          {"mark": {"type": "rule", "color": "#333333", "strokeWidth": 1},
           "encoding": {"x": {"field": "from", "type": "quantitative"}, "y": {"field": "lb", "type": "quantitative"}, "y2": {"field": "top"}}},
          {"mark": {"type": "rule", "color": "#333333", "strokeWidth": 1},
           "encoding": {"x": {"field": "to", "type": "quantitative"}, "y": {"field": "rb", "type": "quantitative"}, "y2": {"field": "top"}}},
          {"mark": {"type": "text", "fontSize": 10, "fontWeight": "bold", "letterSpacing": 2, "baseline": "alphabetic", "dy": -1.5, "color": "#1a1a1a"},
           "encoding": {"x": {"field": "mid", "type": "quantitative"}, "y": {"field": "top", "type": "quantitative"}, "text": {"field": "label"}}}
        ]}
      ]
    }
  ]
}
